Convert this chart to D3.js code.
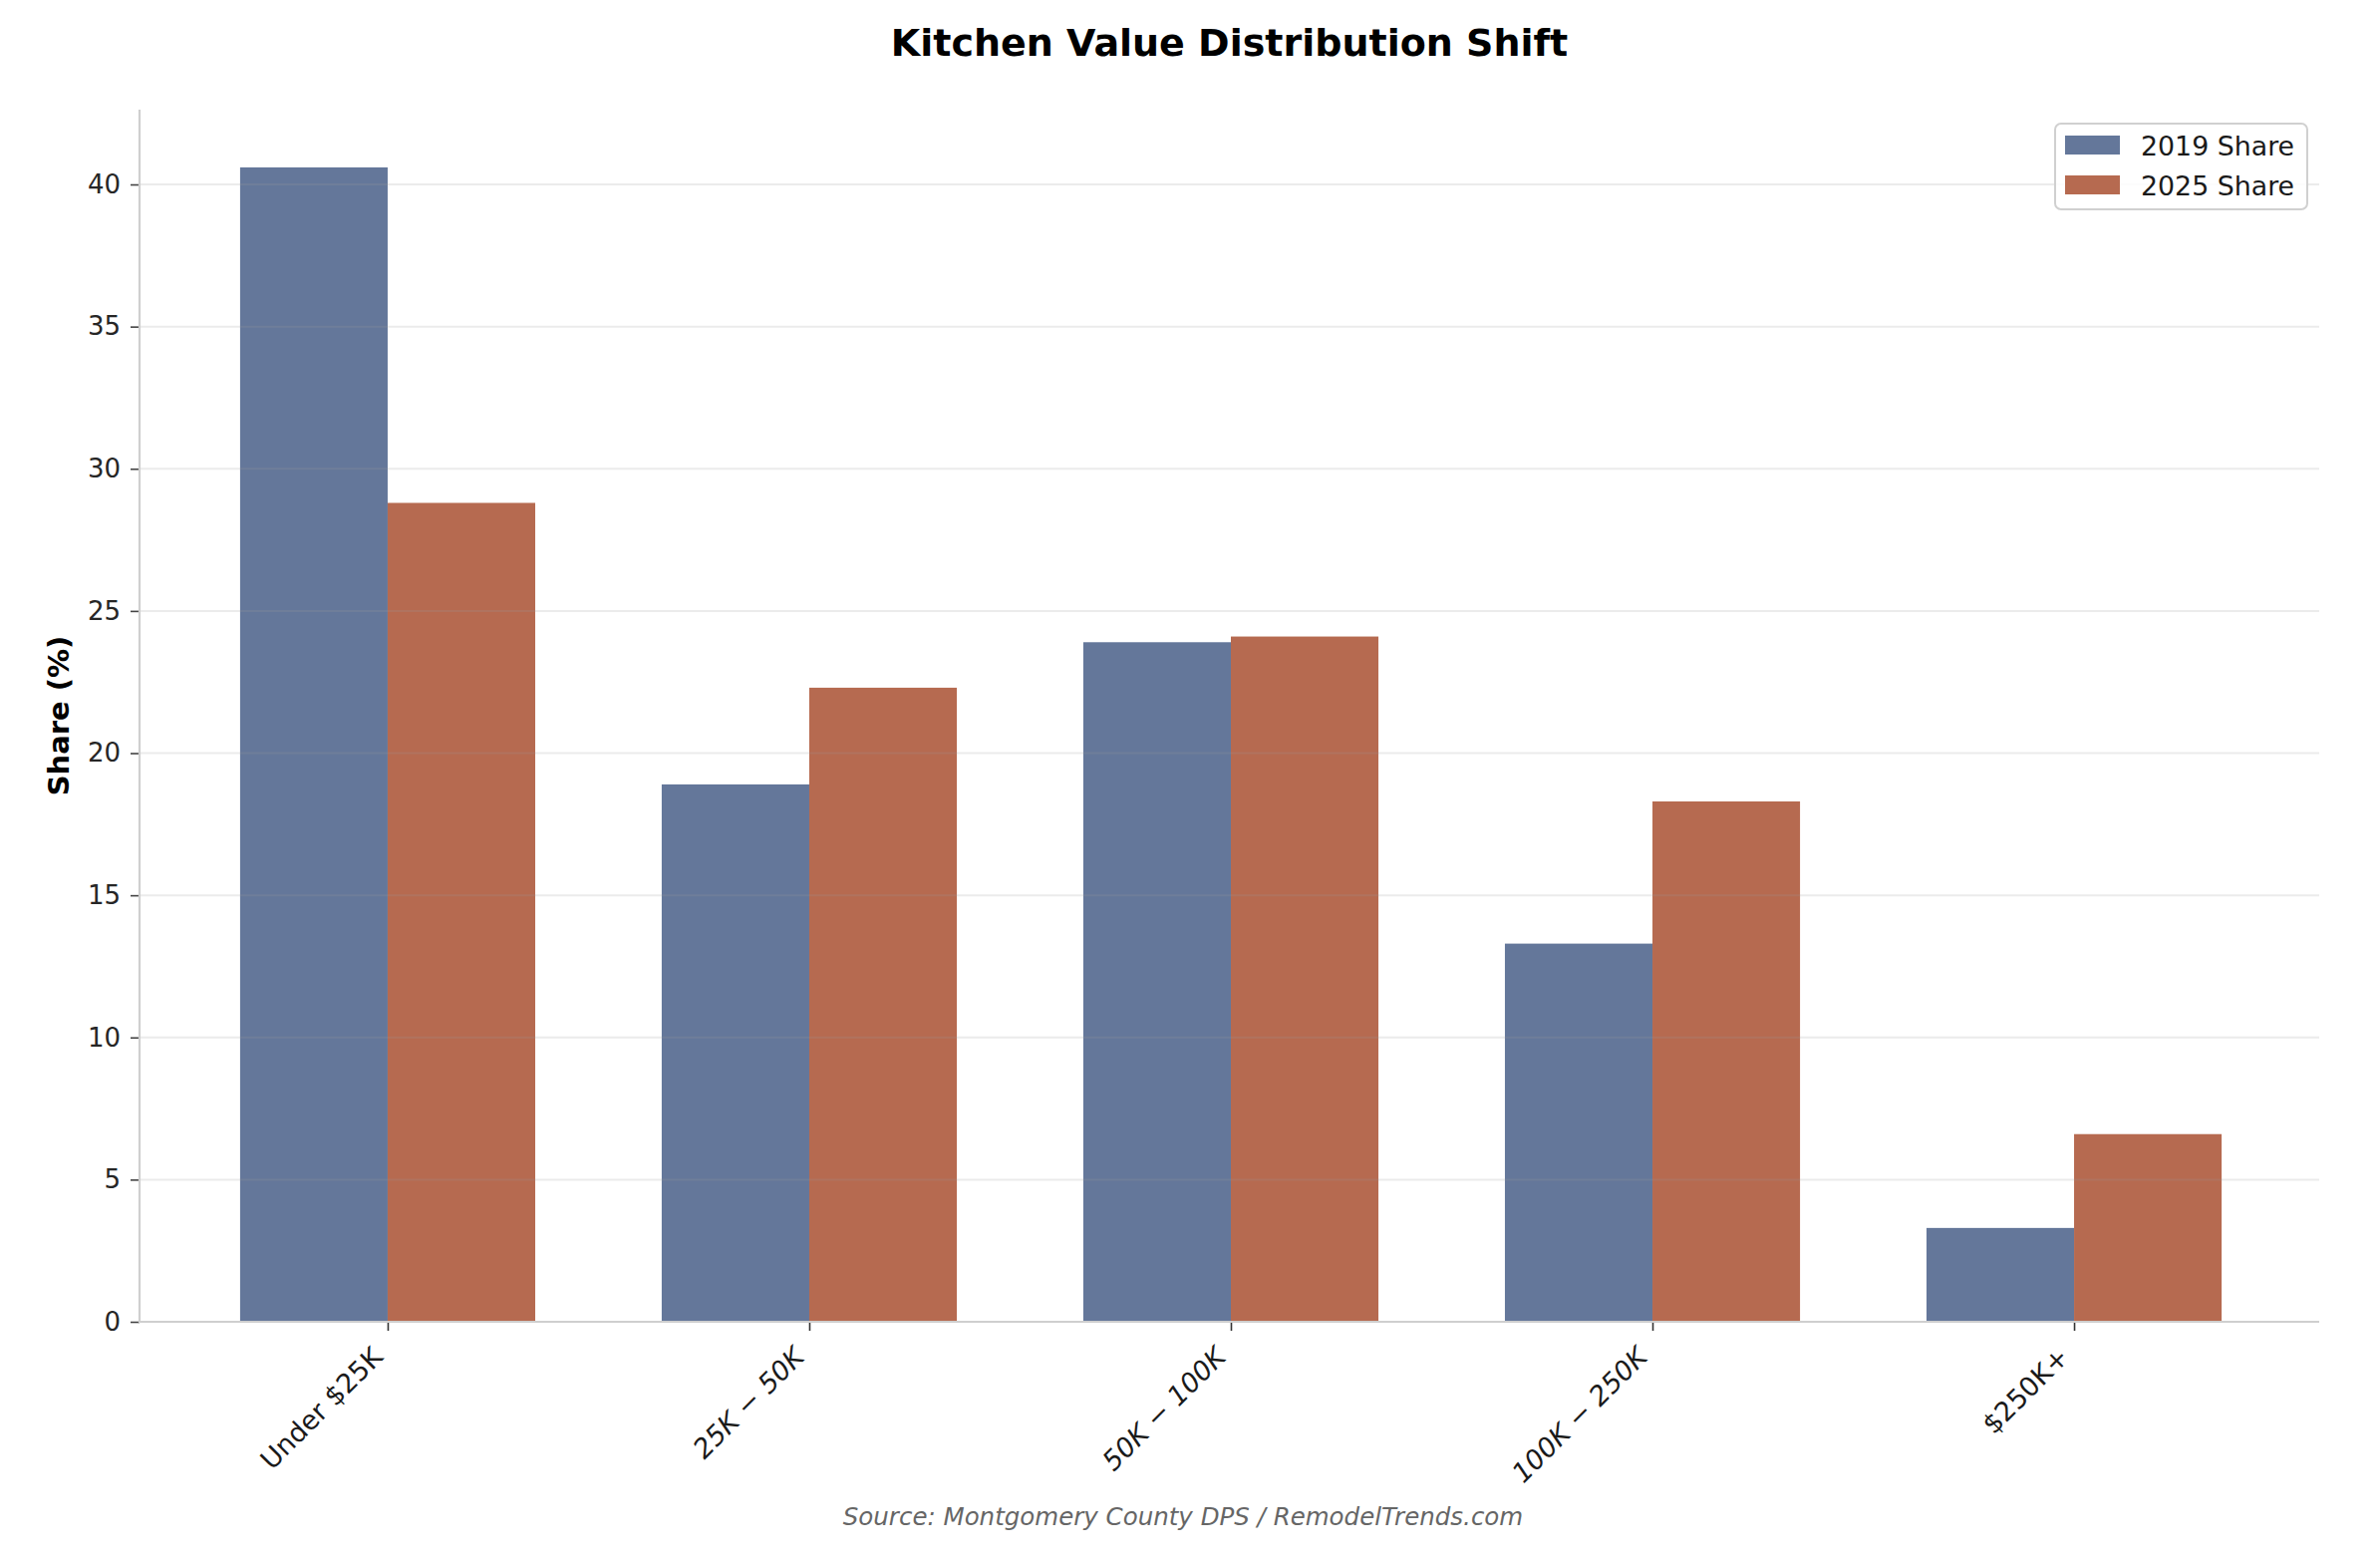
<!DOCTYPE html>
<html>
<head>
<meta charset="utf-8">
<script src="https://cdn.jsdelivr.net/npm/d3@7"></script>
<style>
  html, body { margin: 0; padding: 0; background: #fff; }
  svg { display: block; font-family: "DejaVu Sans", sans-serif; }
</style>
</head>
<body>
<svg id="chart" width="2388" height="1572"></svg>
<script>
// ---- data ----
const categories = ["Under $25K", "25K − 50K", "50K − 100K", "100K − 250K", "$250K+"];
const italicLabel = [false, true, true, true, false];
const seriesNames = ["2019 Share", "2025 Share"];
const share2019 = [40.6, 18.9, 23.9, 13.3, 3.3];
const share2025 = [28.8, 22.3, 24.1, 18.3, 6.6];
const yTicks = [0, 5, 10, 15, 20, 25, 30, 35, 40];
const titleText = "Kitchen Value Distribution Shift";
const yLabelText = "Share (%)";
const sourceText = "Source: Montgomery County DPS / RemodelTrends.com";

const colors = ["#53688f", "#ae5a3d"];
const series = [share2019, share2025];

// ---- layout ----
const W = 2388, H = 1572;
const mLeft = 140, mRight = 2327, mTop = 110, mBottom = 1326;
const barW = 0.35;

const svg = d3.select("#chart");
svg.append("rect").attr("width", W).attr("height", H).attr("fill", "#fff");

const maxV = d3.max([...share2019, ...share2025]);
const span = categories.length - 1 + 2 * barW;
const x = d3.scaleLinear()
  .domain([-barW - 0.05 * span, categories.length - 1 + barW + 0.05 * span])
  .range([mLeft + 1.5, mRight + 1.5]);
const y = d3.scaleLinear().domain([0, maxV * 1.05]).range([mBottom, mTop]);

// bars
series.forEach((vals, s) => {
  svg.append("g").selectAll("rect").data(vals).join("rect")
    .attr("x", (d, i) => x(i + (s === 0 ? -barW : 0)))
    .attr("width", (d, i) => x(barW) - x(0))
    .attr("y", d => y(d))
    .attr("height", d => y(0) - y(d))
    .attr("fill", colors[s])
    .attr("fill-opacity", 0.9);
});

// gridlines (on top, faint)
svg.append("g").selectAll("line").data(yTicks.filter(t => t > 0)).join("line")
  .attr("x1", mLeft).attr("x2", mRight)
  .attr("y1", d => y(d)).attr("y2", d => y(d))
  .attr("stroke", "#9a9a9a").attr("stroke-opacity", 0.2).attr("stroke-width", 2);

// y axis
const yAxis = d3.axisLeft(y).tickValues(yTicks).tickSize(9).tickPadding(10).tickFormat(d3.format("d"));
const gy = svg.append("g").attr("transform", `translate(${mLeft},0)`).call(yAxis);
gy.select(".domain").remove();
gy.selectAll(".tick line").attr("stroke", "#444").attr("stroke-width", 1.6);
gy.selectAll(".tick text").attr("font-size", 26).attr("fill", "#262626")
  .attr("font-family", "DejaVu Sans");

// x axis
const xAxis = d3.axisBottom(x).tickValues(d3.range(categories.length)).tickSize(9).tickFormat(i => categories[i]);
const gx = svg.append("g").attr("transform", `translate(0,${mBottom})`).call(xAxis);
gx.select(".domain").remove();
gx.selectAll(".tick line").attr("stroke", "#333").attr("stroke-width", 1.6);
gx.selectAll(".tick text")
  .attr("font-size", 27).attr("fill", "#1a1a1a")
  .attr("font-family", "DejaVu Sans")
  .attr("font-style", i => italicLabel[i] ? "italic" : "normal")
  .attr("text-anchor", "end")
  .attr("dy", null)
  .attr("y", 0)
  .attr("transform", "translate(-4,37) rotate(-45)");

// spines
svg.append("line").attr("x1", mLeft).attr("x2", mLeft).attr("y1", mTop).attr("y2", mBottom + 1)
  .attr("stroke", "#cfcfcf").attr("stroke-width", 2.2);
svg.append("line").attr("x1", mLeft).attr("x2", mRight).attr("y1", mBottom).attr("y2", mBottom)
  .attr("stroke", "#cfcfcf").attr("stroke-width", 2.2);

// title
svg.append("text").attr("x", (mLeft + mRight) / 2).attr("y", 56)
  .attr("text-anchor", "middle").attr("font-size", 38).attr("font-weight", "bold")
  .attr("fill", "#000").text(titleText);

// y label
svg.append("text")
  .attr("transform", `translate(69,${(mTop + mBottom) / 2}) rotate(-90)`)
  .attr("text-anchor", "middle").attr("font-size", 29).attr("font-weight", "bold")
  .attr("fill", "#000").text(yLabelText);

// source
svg.append("text").attr("x", W / 2 - 7).attr("y", 1530)
  .attr("text-anchor", "middle").attr("font-size", 24.5).attr("font-style", "italic")
  .attr("fill", "#666").text(sourceText);

// legend
const lg = svg.append("g").attr("transform", "translate(2062,124)");
lg.append("rect").attr("width", 253).attr("height", 86).attr("rx", 6)
  .attr("fill", "#fff").attr("fill-opacity", 0.85)
  .attr("stroke", "#d0d0d0").attr("stroke-width", 2);
seriesNames.forEach((name, s) => {
  lg.append("rect").attr("x", 10).attr("y", 12 + s * 40).attr("width", 55).attr("height", 19)
    .attr("fill", colors[s]).attr("fill-opacity", 0.9);
  lg.append("text").attr("x", 86).attr("y", 22 + s * 40).attr("dy", "0.36em")
    .attr("font-size", 26.8).attr("fill", "#1a1a1a").text(name);
});
</script>
</body>
</html>
